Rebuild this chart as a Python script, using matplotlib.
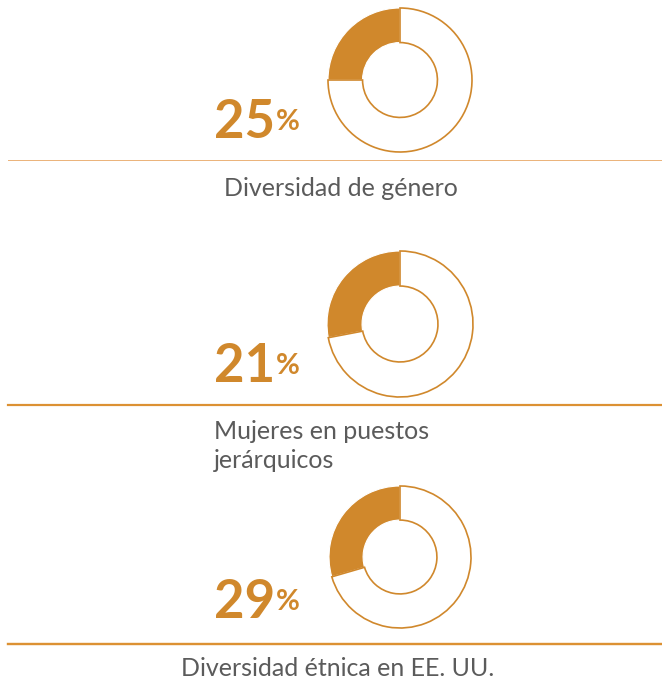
import matplotlib.pyplot as plt
from matplotlib.lines import Line2D

plt.rcParams['font.family'] = ['Lato', 'DejaVu Sans']

# values shown as numbers
pct_labels = [25, 21, 29]
# share of ring filled, as drawn in the picture
ring_share = [25, 28, 29.5]
captions = ['Diversidad de género', 'Mujeres en puestos\njerárquicos', 'Diversidad étnica en EE. UU.']

orange = '#d0882c'
gray = '#5b5b5b'
W, H = 662, 684

fig = plt.figure(figsize=(W / 100, H / 100), dpi=100)
ax = fig.add_axes([0, 0, 1, 1])
ax.set_xlim(0, W)
ax.set_ylim(H, 0)
ax.axis('off')

# layout in pixels: donut center y, radius, number baseline, rule y, rule width, rule color
centers = [80, 324, 557]
radii = [72, 73, 71]
baselines = [138, 382, 618]
rules = [(159.5, 1.0, '#ebb47c'), (405, 2.2, '#dc9133'), (644, 2.4, '#dc9133')]

for i in range(3):
    cy, r = centers[i], radii[i]
    pax = fig.add_axes([(400 - r) / W, 1 - (cy + r) / H, 2 * r / W, 2 * r / H])
    wedges, _ = pax.pie([ring_share[i], 100 - ring_share[i]], startangle=90, counterclock=True,
                        colors=[orange, 'white'], radius=1,
                        wedgeprops=dict(width=0.48, edgecolor=orange, linewidth=1.2))
    for w in wedges:
        w.set_clip_on(False)
    wedges[0].set_edgecolor('white')
    wedges[0].set_linewidth(0.8)
    pax.set_xlim(-1, 1)
    pax.set_ylim(-1, 1)
    pax.set_aspect('auto')

    ax.text(214, baselines[i], str(pct_labels[i]), fontsize=38, fontweight='bold',
            color=orange, ha='left', va='baseline')
    ax.text(276, baselines[i] - 8, '%', fontsize=21, fontweight='bold',
            color=orange, ha='left', va='baseline')

    y, lw, c = rules[i]
    ax.add_line(Line2D([8, W], [y, y], color=c, linewidth=lw * 0.72))

ax.text(341, 188, captions[0], fontsize=18, color=gray, ha='center', va='center')
ax.text(214, 446, captions[1], fontsize=18, color=gray, ha='left', va='center', linespacing=1.3)
ax.text(338, 668, captions[2], fontsize=18, color=gray, ha='center', va='center')

fig.savefig('out.png', dpi=100)
